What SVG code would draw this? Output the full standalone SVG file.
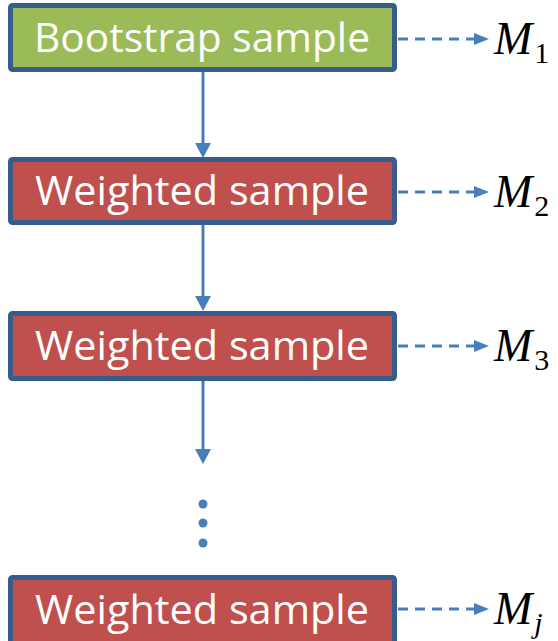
<svg xmlns="http://www.w3.org/2000/svg" width="558" height="641" viewBox="0 0 558 641">
<defs>
<style>
.box{stroke:#385d8a;stroke-width:5}
.g{fill:#9bbb59}
.r{fill:#c0504d}
.lbl{font-family:"Open Sans","Liberation Sans",sans-serif;font-size:40px;fill:#ffffff;text-anchor:middle}
.m{font-family:"Liberation Serif",serif;font-style:italic;font-size:46px;fill:#000}
.sub{font-family:"Liberation Serif",serif;font-size:30px;fill:#000;font-style:normal}
.solid{stroke:#4a7ebb;stroke-width:3;fill:none}
.dash{stroke:#4a7ebb;stroke-width:3;fill:none;stroke-dasharray:10 7}
</style>
</defs>
<g id="connectors">
<line class="solid" x1="203" y1="72" x2="203" y2="144"/>
<path d="M195,143 L211,143 L203,158 Z" fill="#4a7ebb"/>
<line class="solid" x1="203" y1="225" x2="203" y2="297"/>
<path d="M195,296 L211,296 L203,311 Z" fill="#4a7ebb"/>
<line class="solid" x1="203" y1="381" x2="203" y2="450"/>
<path d="M195,449 L211,449 L203,464 Z" fill="#4a7ebb"/>
<circle cx="203" cy="504" r="4.5" fill="#4a7ebb"/>
<circle cx="203" cy="523" r="4.5" fill="#4a7ebb"/>
<circle cx="203" cy="543" r="4.5" fill="#4a7ebb"/>
<line class="dash" x1="398" y1="39" x2="476" y2="39"/>
<path d="M474,33 L489,39 L474,45 Z" fill="#4a7ebb"/>
<line class="dash" x1="398" y1="192" x2="476" y2="192"/>
<path d="M474,186 L489,192 L474,198 Z" fill="#4a7ebb"/>
<line class="dash" x1="398" y1="346" x2="476" y2="346"/>
<path d="M474,340 L489,346 L474,352 Z" fill="#4a7ebb"/>
<line class="dash" x1="398" y1="609" x2="476" y2="609"/>
<path d="M474,603 L489,609 L474,615 Z" fill="#4a7ebb"/>
</g>
<g id="node1">
<rect class="box g" x="10.5" y="5.5" width="384" height="64" rx="2"/>
<text class="lbl" x="202" y="52" textLength="336" lengthAdjust="spacingAndGlyphs">Bootstrap sample</text>
</g>
<g id="node2">
<rect class="box r" x="10.5" y="159.5" width="384" height="63" rx="2"/>
<text class="lbl" x="202" y="205" textLength="334" lengthAdjust="spacingAndGlyphs">Weighted sample</text>
</g>
<g id="node3">
<rect class="box r" x="10.5" y="313.5" width="384" height="65" rx="2"/>
<text class="lbl" x="202" y="360" textLength="334" lengthAdjust="spacingAndGlyphs">Weighted sample</text>
</g>
<g id="node4">
<rect class="box r" x="10.5" y="577.5" width="384" height="66" rx="2"/>
<text class="lbl" x="202" y="624" textLength="334" lengthAdjust="spacingAndGlyphs">Weighted sample</text>
</g>
<g id="labels">
<text class="m" x="494" y="54">M<tspan class="sub" dx="2" dy="9">1</tspan></text>
<text class="m" x="494" y="207">M<tspan class="sub" dx="2" dy="9">2</tspan></text>
<text class="m" x="494" y="361">M<tspan class="sub" dx="2" dy="9">3</tspan></text>
<text class="m" x="494" y="624">M<tspan class="sub" dx="2" dy="9" style="font-style:italic">j</tspan></text>
</g>
</svg>
